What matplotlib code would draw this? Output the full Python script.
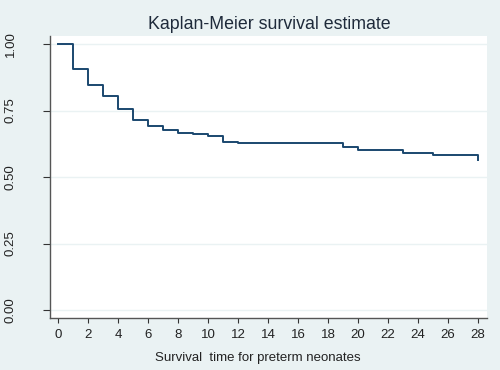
import numpy as np
import matplotlib
matplotlib.use('Agg')
import matplotlib.pyplot as plt

# step times (days) and survival after each step
times = [0, 1, 2, 3, 4, 5, 6, 7, 8, 9, 10, 11, 12, 19, 20, 23, 25, 28]
surv = [1.00, 0.906, 0.846, 0.803, 0.754, 0.713, 0.692, 0.676, 0.667, 0.663,
        0.654, 0.630, 0.627, 0.612, 0.603, 0.591, 0.583, 0.564]
x_ticks = list(range(0, 29, 2))
y_ticks = [0.00, 0.25, 0.50, 0.75, 1.00]

plt.rcParams['font.family'] = ['Liberation Sans', 'DejaVu Sans']

bg = '#eaf2f3'
line_col = '#1a476f'

fig = plt.figure(figsize=[5, 3.7], dpi=100, facecolor=bg)
ax = fig.add_axes([0.1, 0.1405, 0.874, 0.762])
ax.set_facecolor('white')

ax.step(times, surv, where='post', color=line_col, lw=1.4)

ax.set_xlim(-0.53, 28.6)
ax.set_ylim(-0.03, 1.03)
ax.set_xticks(x_ticks)
ax.set_yticks(y_ticks)
ax.set_yticklabels([f'{v:.2f}' for v in y_ticks], rotation=90, va='center')
ax.tick_params(axis='both', labelsize=9.5, color='#333333', width=0.8,
               labelcolor='#222222')
ax.tick_params(axis='x', pad=4.5, length=3.5)
ax.tick_params(axis='y', pad=19, length=5)

for s in ['top', 'right']:
    ax.spines[s].set_visible(False)
for s in ['left', 'bottom']:
    ax.spines[s].set_color('#555555')
    ax.spines[s].set_linewidth(1.0)

ax.yaxis.grid(True, color=bg, lw=1.0)
ax.set_axisbelow(True)

ax.set_xlabel('Survival  time for preterm neonates', fontsize=9.5, color='#222222')
ax.xaxis.set_label_coords(0.475, -0.122)
fig.text(0.538, 0.935, 'Kaplan-Meier survival estimate', ha='center', va='center',
         fontsize=12.8, color='#1e2a3a')

fig.savefig('out.png', dpi=100, facecolor=bg)
